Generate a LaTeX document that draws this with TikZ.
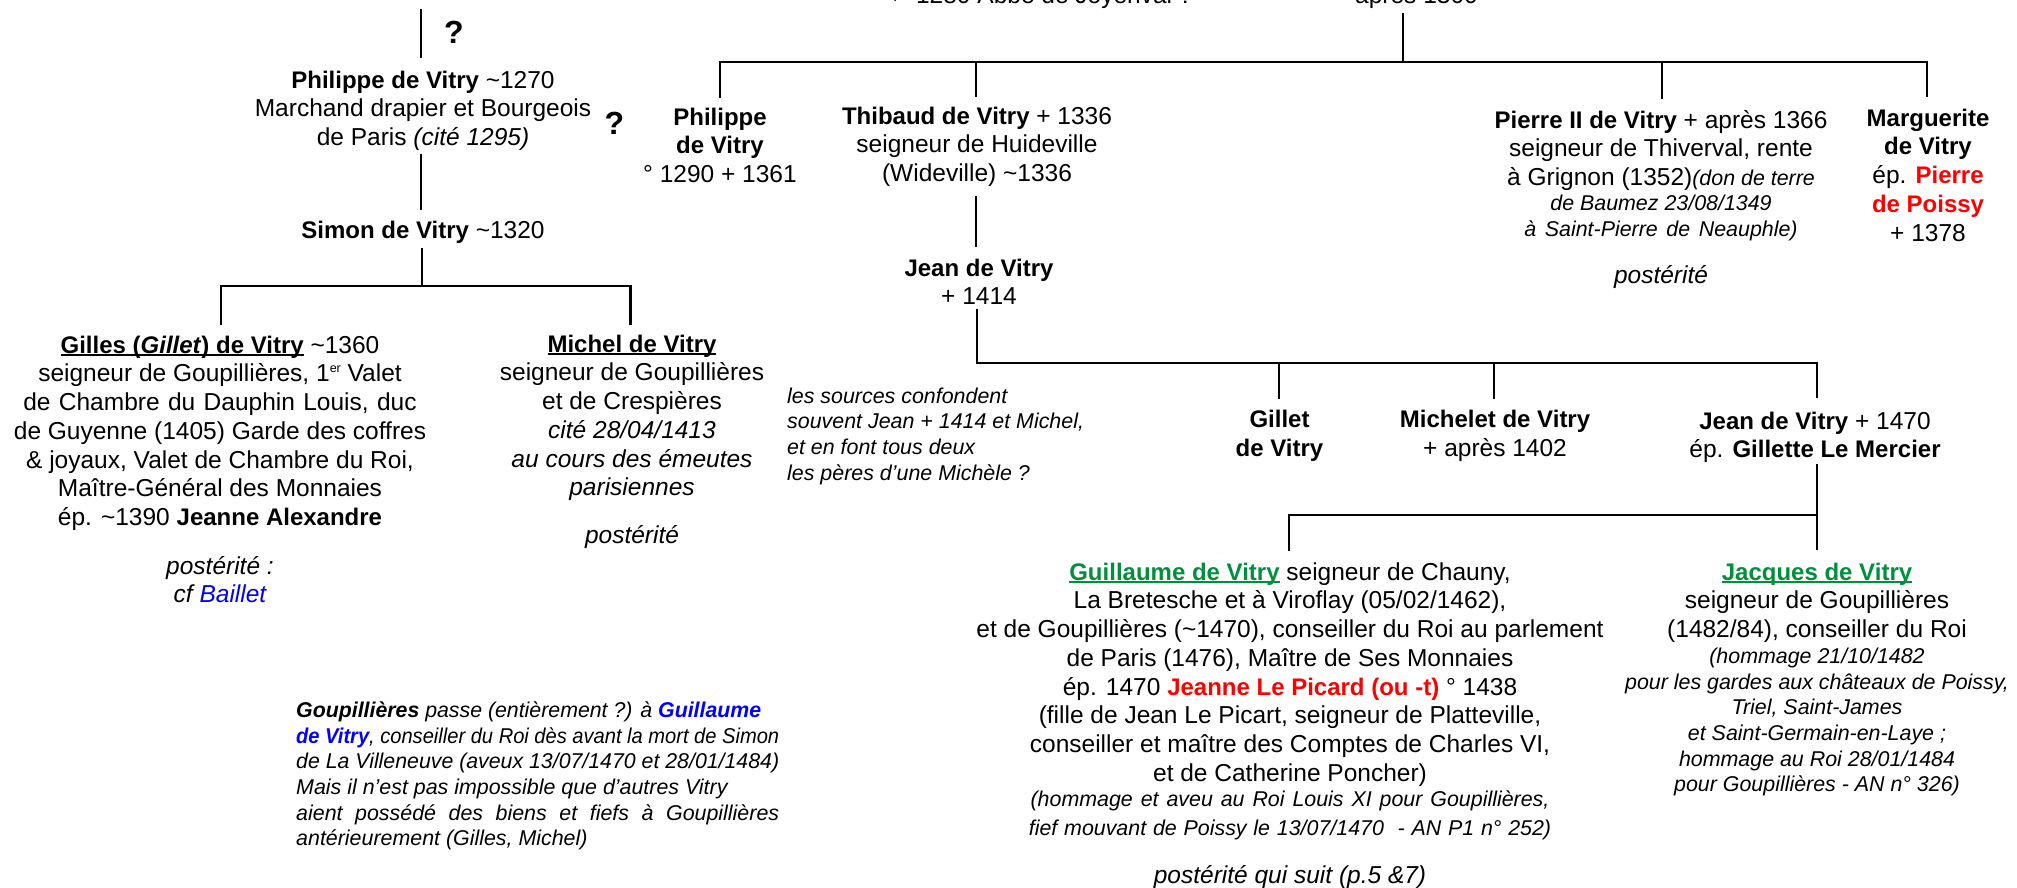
\documentclass[tikz,border=0pt]{standalone}
\usepackage{fontspec}
\usepackage{graphicx}
\setmainfont{Liberation Sans}
\definecolor{gr}{HTML}{008F3C}
\newcommand\Up[1]{\rule{0pt}{#1pt}}
\newcommand\Dn[1]{\rule[-#1pt]{0pt}{#1pt}}
\newcommand\Ul[1]{\setbox0\hbox{#1}\rlap{\rule[-2.6pt]{\wd0}{1.8pt}}\box0\relax}
\newcommand\B[1]{{\fontsize{24}{28.7}\selectfont\bfseries #1}}
\newcommand\Bn[1]{\textbf{#1}}
\newcommand\It{\fontsize{21.4}{28.7}\selectfont\itshape}
\newcommand\Tl{\textasciitilde}
\newcommand\Er{\raisebox{9pt}{\fontsize{12.5}{12.5}\selectfont er}}
\newcommand\Just[2]{\resizebox{#1pt}{\height}{#2}}
\tikzset{
  blk/.style={anchor=north,align=center,inner sep=0pt,font=\fontsize{24.5}{28.7}\selectfont},
  note/.style={anchor=north west,align=left,inner sep=0pt,font=\fontsize{21.4}{25.6}\selectfont\itshape},
  qm/.style={inner sep=0pt,font=\fontsize{32}{32}\selectfont\bfseries},
  lnk/.style={line width=2.8pt,line cap=rect,black},
}
\begin{document}
\begin{tikzpicture}[x=1pt,y=-1pt]
\useasboundingbox (0,0) rectangle (2017,887);
% clipped top texts
\node[blk,anchor=base west] (abbe) at (888,3) {+\ \ 1280 Abbé de Joyenval ?};
\node[blk,anchor=base] (apres) at (1416.5,3) {après 1300};
% left branch
\coordinate (s0) at (421,10);
\node[blk] (philA) at (423,57) {\Up{31}\B{Philippe de Vitry} \Tl1270\\Marchand drapier et Bourgeois\\de Paris {\itshape (cité 1295)}\Dn{10}};
\node[blk] (simon) at (423,209) {\Up{29}\B{Simon de Vitry} \Tl1320\Dn{11}};
\node[qm] (q1) at (454,32) {?};
\node[qm] (q2) at (614.5,123) {?};
\coordinate (sj) at (422,286);
\coordinate (sl) at (221,286);
\coordinate (sr) at (630.5,286);
\node[blk] (gilles) at (220,324) {\Up{29}\Ul{\B{Gilles (\textit{Gillet}) de Vitry}} \Tl1360\\
seigneur de Goupillières, 1\Er{} Valet\\
{\spaceskip=8.4pt de Chambre du Dauphin Louis, duc}\\
de Guyenne (1405) Garde des coffres\\
\& joyaux, Valet de Chambre du Roi,\\
Maître-Général des Monnaies\\
ép. \Tl1390 \B{Jeanne Alexandre}\\[20pt]
{\itshape postérité :}\\
{\itshape cf \textcolor{blue}{Baillet}}};
\node[blk] (michel) at (632,324) {\Up{28}\Ul{\B{Michel de Vitry}}\\
seigneur de Goupillières\\
et de Crespières\\
{\itshape cité 28/04/1413}\\
{\itshape au cours des émeutes}\\
{\itshape parisiennes}\\[19pt]
{\itshape postérité}};
\draw[lnk] (s0) -- (philA.north -| s0);
\draw[lnk] (philA.south -| s0) -- (simon.north -| s0);
\draw[lnk] (simon.south -| sj) -- (sj);
\draw[lnk] (sl) -- (sr);
\draw[lnk] (sl) -- (gilles.north -| sl);
\draw[lnk] (sr) -- (michel.north -| sr);
% notes
\node[note] (goup) at (296,695.5) {\Up{22}\Just{465}{\Bn{Goupillières} passe (entièrement ?) à \textcolor{blue}{\Bn{Guillaume}}}\\
\Just{483}{\textcolor{blue}{\Bn{de Vitry}}, conseiller du Roi dès avant la mort de Simon}\\
\Just{483}{de La Villeneuve (aveux 13/07/1470 et 28/01/1484)}\\
Mais il n’est pas impossible que d’autres Vitry\\
\makebox[483pt][s]{aient possédé des biens et fiefs à Goupillières}\\
antérieurement (Gilles, Michel)};
\node[note] (sources) at (787,381) {\Up{22}les sources confondent\\
souvent Jean + 1414 et Michel,\\
et en font tous deux\\
les pères d’une Michèle ?};
% top tree
\coordinate (t0) at (1403,14);
\coordinate (tj) at (1403,62);
\coordinate (tl) at (720,62);
\coordinate (tr) at (1927,62);
\coordinate (tb) at (976,62);
\coordinate (tc) at (1662,62);
\node[blk] (philB) at (720,97) {\Up{28}\B{Philippe}\\\B{de Vitry}\\° 1290 + 1361};
\node[blk] (thib) at (977,96) {\Up{28}\B{Thibaud de Vitry} + 1336\\seigneur de Huideville\\(Wideville) \Tl1336\Dn{16}};
\node[blk] (pierre) at (1661,98) {\Up{30}\B{Pierre II de Vitry} + après 1366\\
seigneur de Thiverval, rente\\
à Grignon (1352){\It(don de terre}\\[-4pt]
{\It de Baumez 23/08/1349}\\[-3pt]
{\It\spaceskip=8.6pt à Saint-Pierre de Neauphle)}\\[19pt]
{\itshape postérité}};
\node[blk] (marg) at (1928,96) {\Up{30}\B{Marguerite}\\\B{de Vitry}\\ép. \textcolor{red}{\B{Pierre}}\\\textcolor{red}{\B{de Poissy}}\\+ 1378};
\draw[lnk] (t0) -- (tj);
\draw[lnk] (tl) -- (tr);
\draw[lnk] (tl) -- (philB.north -| tl);
\draw[lnk] (tb) -- (thib.north -| tb);
\draw[lnk] (tc) -- (pierre.north -| tc);
\draw[lnk] (tr) -- (marg.north -| tr);
% Jean + 1414
\node[blk] (jeanA) at (979,246) {\Up{30}\B{Jean de Vitry}\\+ 1414\Dn{5}};
\coordinate (jl) at (977,363);
\coordinate (jr) at (1817,363);
\coordinate (jg) at (1279,363);
\coordinate (jm) at (1494,363);
\node[blk] (gillet) at (1279.5,397.5) {\Up{30}\B{Gillet}\\\B{de Vitry}};
\node[blk] (michelet) at (1495,397.5) {\Up{30}\B{Michelet de Vitry}\\+ après 1402};
\node[blk] (jeanB) at (1815,397) {\Up{32}\B{Jean de Vitry} + 1470\\ép. \B{Gillette Le Mercier}\Dn{7}};
\draw[lnk] (thib.south -| tb) -- (jeanA.north -| tb);
\draw[lnk] (jeanA.south -| jl) -- (jl);
\draw[lnk] (jl) -- (jr);
\draw[lnk] (jg) -- (gillet.north -| jg);
\draw[lnk] (jm) -- (michelet.north -| jm);
\draw[lnk] (jr) -- (jeanB.north -| jr);
% last generation
\coordinate (kr) at (1817,515);
\coordinate (kl) at (1289,515);
\node[blk] (guil) at (1290,550) {\Up{30}\textcolor{gr}{\Ul{\B{Guillaume de Vitry}}} seigneur de Chauny,\\
La Bretesche et à Viroflay (05/02/1462),\\
et de Goupillières (\Tl1470), conseiller du Roi au parlement\\
de Paris (1476), Maître de Ses Monnaies\\
ép. 1470 \textcolor{red}{\B{Jeanne Le Picard (ou -t)}} ° 1438\\
(fille de Jean Le Picart, seigneur de Platteville,\\
conseiller et maître des Comptes de Charles VI,\\
et de Catherine Poncher)\\[-3pt]
{\It\spaceskip=7.9pt (hommage et aveu au Roi Louis XI pour Goupillières,}\\
{\It\spaceskip=6.8pt fief mouvant de Poissy le 13/07/1470 \ - AN P1 n° 252)}\\[19.5pt]
{\itshape postérité qui suit (p.5 \&7)}};
\node[blk] (jacques) at (1817,549) {\Up{31}\textcolor{gr}{\Ul{\B{Jacques de Vitry}}}\\
seigneur de Goupillières\\
(1482/84), conseiller du Roi\\[-3pt]
{\It (hommage 21/10/1482}\\[-3pt]
{\It pour les gardes aux châteaux de Poissy,}\\[-3pt]
{\It Triel, Saint-James}\\[-3pt]
{\It et Saint-Germain-en-Laye ;}\\[-3pt]
{\It hommage au Roi 28/01/1484}\\[-3pt]
{\It pour Goupillières - AN n° 326)}};
\draw[lnk] (jeanB.south -| jr) -- (jacques.north -| jr);
\draw[lnk] (kl) -- (kr);
\draw[lnk] (kl) -- (guil.north -| kl);
\end{tikzpicture}
\end{document}
